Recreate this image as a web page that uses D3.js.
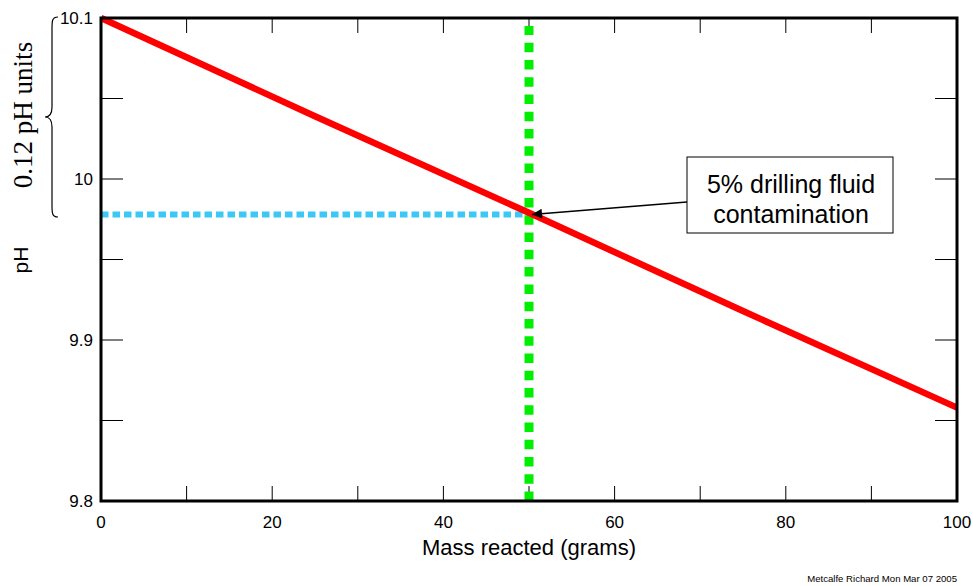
<!DOCTYPE html>
<html>
<head>
<meta charset="utf-8">
<script src="https://cdn.jsdelivr.net/npm/d3@7"></script>
<style>
  body { margin: 0; background: #fff; }
  text { font-family: Arial, "Liberation Sans", sans-serif; fill: #000; }
</style>
</head>
<body>
<svg width="973" height="586"></svg>
<script>
// data
const massValues = [0, 25, 50, 75, 100];
const phValues = [10.1, 10.039, 9.979, 9.918, 9.858];
const markMass = 50;
const markPh = 9.978;
const xTicks = [0, 20, 40, 60, 80, 100];
const yTicks = [9.8, 9.9, 10, 10.1];
const annotation = ["5% drilling fluid", "contamination"];

const margin = { top: 18, right: 16, bottom: 85, left: 101 };
const width = 973 - margin.left - margin.right;
const height = 586 - margin.top - margin.bottom;

const svg = d3.select("svg");
const g = svg.append("g")
	.attr("transform", `translate(${margin.left},${margin.top})`);

const x = d3.scaleLinear().domain([0, 100]).range([0, width]);
const y = d3.scaleLinear().domain([9.8, 10.1]).range([height, 0]);

// inward tick marks on all four sides
const xMinor = d3.range(0, 101, 10);
const yMinor = d3.range(9.8, 10.1001, 0.05);

g.selectAll(".xt")
	.data(xMinor)
	.join("line")
	.attr("x1", d => x(d)).attr("x2", d => x(d))
	.attr("y1", height).attr("y2", height - 15)
	.attr("stroke", "#000").attr("stroke-width", 1);
g.selectAll(".xtt")
	.data(xMinor)
	.join("line")
	.attr("x1", d => x(d)).attr("x2", d => x(d))
	.attr("y1", 0).attr("y2", 15)
	.attr("stroke", "#000").attr("stroke-width", 1);
g.selectAll(".yt")
	.data(yMinor)
	.join("line")
	.attr("x1", 0).attr("x2", 22)
	.attr("y1", d => y(d)).attr("y2", d => y(d))
	.attr("stroke", "#000").attr("stroke-width", 1);
g.selectAll(".ytr")
	.data(yMinor)
	.join("line")
	.attr("x1", width - 22).attr("x2", width)
	.attr("y1", d => y(d)).attr("y2", d => y(d))
	.attr("stroke", "#000").attr("stroke-width", 1);

// tick labels
g.selectAll(".xl")
	.data(xTicks)
	.join("text")
	.attr("x", d => x(d))
	.attr("y", height + 27)
	.attr("text-anchor", "middle")
	.attr("font-size", 17)
	.text(d => d);
g.selectAll(".yl")
	.data(yTicks)
	.join("text")
	.attr("x", -8)
	.attr("y", d => y(d) + 6)
	.attr("text-anchor", "end")
	.attr("font-size", 17)
	.text(d => d);

// reference lines
g.append("line")
	.attr("x1", x(0)).attr("x2", x(markMass))
	.attr("y1", y(markPh)).attr("y2", y(markPh))
	.attr("stroke", "#3cc8f5").attr("stroke-width", 6)
	.attr("stroke-dasharray", "7.5,4");
g.append("line")
	.attr("x1", x(markMass)).attr("x2", x(markMass))
	.attr("y1", height).attr("y2", 8)
	.attr("stroke", "#00ee00").attr("stroke-width", 9)
	.attr("stroke-dasharray", "9.5,7.76");

// pH curve
const line = d3.line()
	.x((d, i) => x(massValues[i]))
	.y(d => y(d));
g.append("path")
	.datum(phValues)
	.attr("fill", "none")
	.attr("stroke", "#ff0000")
	.attr("stroke-width", 6.5)
	.attr("d", line);

// frame
g.append("rect")
	.attr("width", width).attr("height", height)
	.attr("fill", "none")
	.attr("stroke", "#000").attr("stroke-width", 3);

// axis titles
g.append("text")
	.attr("x", width / 2)
	.attr("y", height + 54)
	.attr("text-anchor", "middle")
	.attr("font-size", 22)
	.text("Mass reacted (grams)");
svg.append("text")
	.attr("transform", "translate(28,260) rotate(-90)")
	.attr("text-anchor", "middle")
	.attr("font-size", 21)
	.text("pH");

// brace showing the pH span
const bx = 50, by0 = 17, by1 = 217, bm = (by0 + by1) / 2;
svg.append("path")
	.attr("fill", "none")
	.attr("stroke", "#000")
	.attr("stroke-width", 1.2)
	.attr("d", `M${bx + 8},${by0} C${bx + 2},${by0} ${bx + 2},${by0 + 4} ${bx + 2},${by0 + 12}
		L${bx + 2},${bm - 10} C${bx + 2},${bm - 3} ${bx},${bm} ${bx - 5},${bm}
		C${bx},${bm} ${bx + 2},${bm + 3} ${bx + 2},${bm + 10}
		L${bx + 2},${by1 - 12} C${bx + 2},${by1 - 4} ${bx + 2},${by1} ${bx + 8},${by1}`);
svg.append("text")
	.attr("transform", "translate(32,115) rotate(-90)")
	.attr("text-anchor", "middle")
	.attr("style", "font-family:'Liberation Serif', 'DejaVu Serif', serif")
	.attr("font-size", 27)
	.text("0.12 pH units");

// annotation box with arrow
const defs = svg.append("defs");
defs.append("marker")
	.attr("id", "arrow")
	.attr("viewBox", "0 0 10 10")
	.attr("refX", 10).attr("refY", 5)
	.attr("markerWidth", 15).attr("markerHeight", 10)
	.attr("markerUnits", "userSpaceOnUse")
	.attr("orient", "auto")
	.append("path")
	.attr("d", "M0,0 L10,5 L0,10 z")
	.attr("fill", "#000");

const box = { x: 687, y: 157, w: 206, h: 76 };
svg.append("rect")
	.attr("x", box.x).attr("y", box.y)
	.attr("width", box.w).attr("height", box.h)
	.attr("fill", "#fff")
	.attr("stroke", "#000").attr("stroke-width", 1);
svg.selectAll(".ann")
	.data(annotation)
	.join("text")
	.attr("x", box.x + box.w / 2 + 1)
	.attr("y", (d, i) => box.y + 36 + i * 30)
	.attr("text-anchor", "middle")
	.attr("font-size", 25)
	.text(d => d);
svg.append("line")
	.attr("x1", box.x).attr("y1", 202)
	.attr("x2", margin.left + x(markMass) + 3).attr("y2", margin.top + y(markPh))
	.attr("stroke", "#000").attr("stroke-width", 1.5)
	.attr("marker-end", "url(#arrow)");

// footer
svg.append("text")
	.attr("x", 957)
	.attr("y", 582)
	.attr("text-anchor", "end")
	.attr("font-size", 9.6)
	.text("Metcalfe Richard Mon Mar 07 2005");
</script>
</body>
</html>
